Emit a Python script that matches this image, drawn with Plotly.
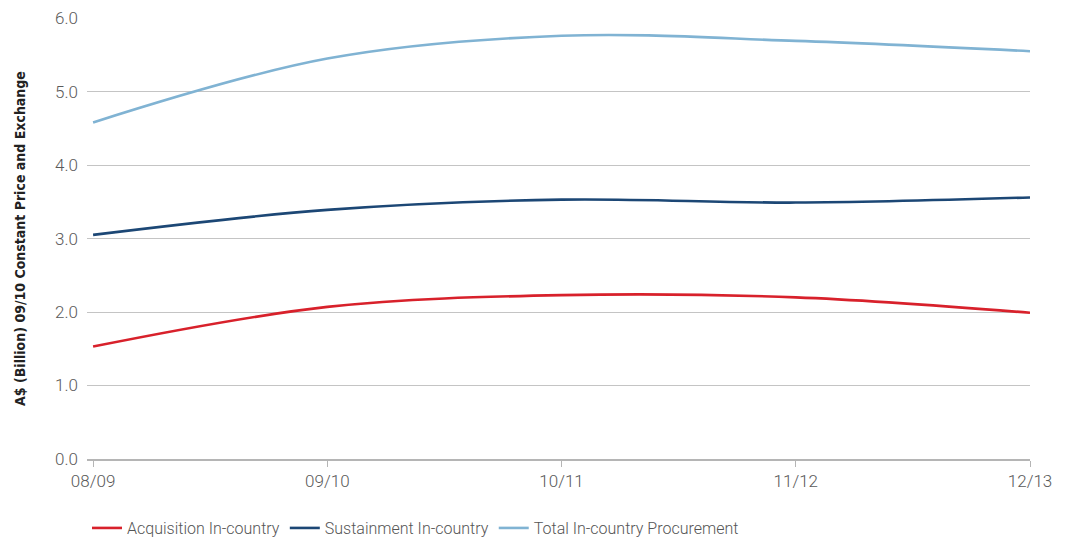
import plotly.graph_objects as go

categories = ["08/09", "09/10", "10/11", "11/12", "12/13"]
acquisition = [1.53, 2.07, 2.23, 2.20, 1.99]
sustainment = [3.05, 3.39, 3.53, 3.49, 3.56]
total = [4.58, 5.45, 5.76, 5.69, 5.55]

series_names = ["Acquisition In-country", "Sustainment In-country", "Total In-country Procurement"]
series_values = [acquisition, sustainment, total]
series_colors = ["#d8212b", "#1c4775", "#80b3d3"]

x_idx = list(range(len(categories)))

fig = go.Figure()
for name, vals, col in zip(series_names, series_values, series_colors):
    fig.add_trace(go.Scatter(
        x=x_idx, y=vals, name=name, mode="lines",
        line=dict(color=col, width=2.6, shape="spline", smoothing=1.0),
    ))

font_main = "Roboto, sans-serif"
tick_font = dict(size=17, color="#5a5a5a", family=font_main, weight=300)

# page body has an 8px default margin; figure sized to fit the 1067x541 window
fig.update_layout(
    width=1059, height=533,
    margin=dict(l=79, r=37, t=10, b=82, autoexpand=False),
    paper_bgcolor="white", plot_bgcolor="white",
    font=dict(family=font_main, color="#555555"),
    showlegend=True,
    legend=dict(orientation="h", x=0.0, xanchor="left", y=-0.118, yanchor="top",
                font=dict(size=16, color="#555555", family=font_main, weight=300),
                itemwidth=30, tracegroupgap=0),
    xaxis=dict(
        range=[-0.026, 4.0],
        tickmode="array", tickvals=x_idx, ticktext=categories,
        showgrid=False, zeroline=False, automargin=False,
        showline=True, linecolor="#b5b5b5", linewidth=1.5,
        ticks="outside", ticklen=6, tickcolor="#b5b5b5", tickwidth=1,
        tickfont=tick_font, ticklabelstandoff=0, ticklabeloverflow="allow",
        fixedrange=True,
    ),
    yaxis=dict(
        range=[0, 6.002], automargin=False,
        tickvals=[0, 1, 2, 3, 4, 5, 6], tickformat=".1f",
        showgrid=True, gridcolor="#c4c4c4", gridwidth=1,
        zeroline=False, showline=False,
        tickfont=tick_font, ticklabeloverflow="allow",
        ticklabelstandoff=8,
        title=dict(text="<b>A$ (Billion) 09/10 Constant Price and Exchange</b>",
                   font=dict(size=14, color="#222222",
                             family="Liberation Sans Narrow, DejaVu Sans Condensed, sans-serif"),
                   standoff=26),
    ),
)

fig.write_html("out.html")
